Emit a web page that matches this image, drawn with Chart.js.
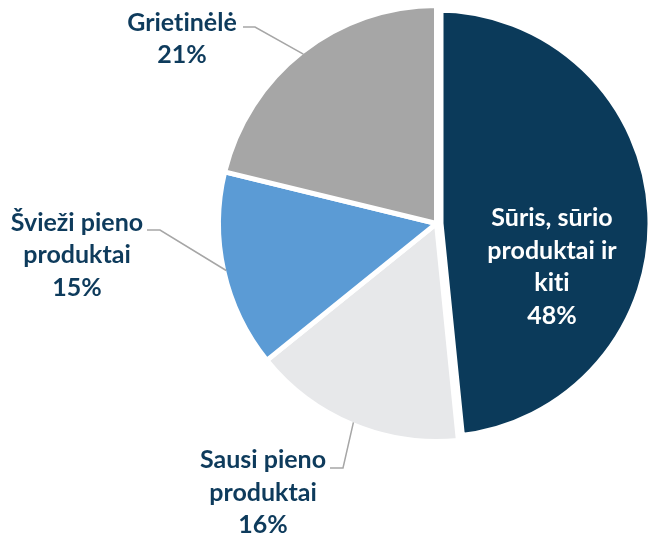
<!DOCTYPE html>
<html>
<head>
<meta charset="utf-8">
<script src="https://cdn.jsdelivr.net/npm/chart.js@4.4.1/dist/chart.umd.min.js"></script>
<style>
  html, body { margin: 0; padding: 0; background: #ffffff; }
  #wrap { width: 648px; height: 536px; }
</style>
</head>
<body>
<div id="wrap"><canvas id="myChart" width="648" height="536"></canvas></div>
<script>
// slices, clockwise from 12 o'clock
const categories = [
  ["Sūris, sūrio", "produktai ir", "kiti"],
  ["Sausi pieno", "produktai"],
  ["Švieži pieno", "produktai"],
  ["Grietinėlė"]
];
const shares = [48.4, 15.8, 14.6, 21.2];
const colors = ["#0b3a5a", "#e7e8ea", "#5b9bd5", "#a6a6a6"];

// where each label sits (baseline of first line, centre x) + leader elbow
const labelSpots = [
  { x: 552, y: 226, color: "#ffffff" },
  { x: 263, y: 468, elbow: [343, 468], tail: [330, 468] },
  { x: 77, y: 230.5, elbow: [160, 230], tail: [147, 230] },
  { x: 182, y: 30.5, elbow: [255, 27], tail: [243, 27] }
];

const LINE_H = 32.5;
const FONT = "bold 25px Lato";

const leaderLabels = {
  id: "leaderLabels",
  afterDatasetsDraw(chart) {
    const ctx = chart.ctx;
    const arcs = chart.getDatasetMeta(0).data;
    ctx.save();
    arcs.forEach((arc, i) => {
      const p = arc.getProps(["x", "y", "startAngle", "endAngle", "outerRadius"], true);
      const spot = labelSpots[i];
      if (spot.elbow) {
        const mid = (p.startAngle + p.endAngle) / 2;
        const r = p.outerRadius - 2.5;
        ctx.strokeStyle = "#a6a6a6";
        ctx.lineWidth = 1.5;
        ctx.beginPath();
        ctx.moveTo(p.x + Math.cos(mid) * r, p.y + Math.sin(mid) * r);
        ctx.lineTo(spot.elbow[0], spot.elbow[1]);
        ctx.lineTo(spot.tail[0], spot.tail[1]);
        ctx.stroke();
      }
      const lines = categories[i].concat([Math.round(shares[i]) + "%"]);
      ctx.font = FONT;
      ctx.fillStyle = spot.color || "#0e3b5c";
      ctx.textAlign = "center";
      ctx.textBaseline = "alphabetic";
      // zero-width non-joiner keeps Lato from drawing its "ti" ligature
      lines.forEach((t, k) => ctx.fillText(t.replace(/ti/g, "t\u200Ci"), spot.x, spot.y + k * LINE_H));
    });
    ctx.restore();
  }
};

new Chart("myChart", {
  type: "pie",
  data: {
    labels: categories,
    datasets: [{
      data: shares,
      backgroundColor: colors,
      borderColor: "#ffffff",
      borderWidth: [14, 5, 5, 5]
    }]
  },
  options: {
    responsive: false,
    animation: false,
    radius: 218,
    layout: { padding: { left: 225, right: 0, top: 0, bottom: 89 } },
    plugins: {
      legend: { display: false },
      tooltip: { enabled: false }
    }
  },
  plugins: [leaderLabels]
});
</script>
</body>
</html>
